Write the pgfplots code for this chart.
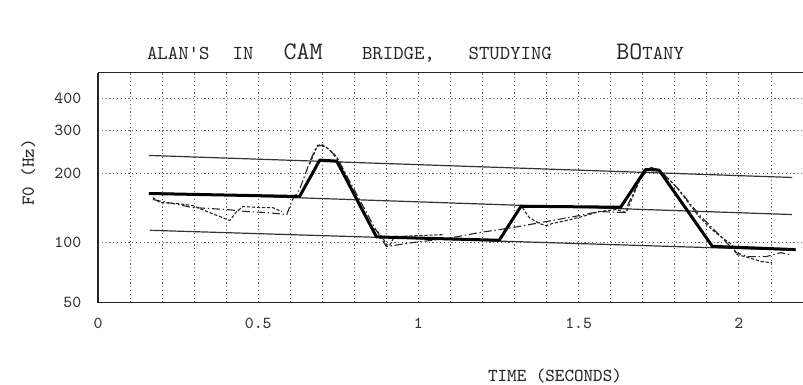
\documentclass[border=0pt]{standalone}
\usepackage{pgfplots}
\pgfplotsset{compat=1.18}
\usepackage{fontspec}
\newcommand{\fs}[1]{\fontsize{#1}{#1}\selectfont\ttfamily}

\begin{document}
\begin{tikzpicture}
\begin{axis}[
  name=ax, at={(0,0)}, anchor=south west,
  scale only axis, width=352.5pt, height=115pt,
  xmin=0, xmax=2.2,
  ymin=50, ymax=505,
  % frequency scale: log of (f + 25 Hz)
  y coord trafo/.code={\pgfmathparse{ln(#1+25)}},
  y coord inv trafo/.code={\pgfmathparse{exp(#1)-25}},
  separate axis lines,
  axis x line=box, axis y line=left,
  axis line style={-, black!85, line width=0.7pt},
  xtick={0,0.5,1,1.5,2}, xticklabels={0,0.5,1,1.5,2},
  minor xtick={0.1,0.2,0.3,0.4,0.6,0.7,0.8,0.9,1.1,1.2,1.3,1.4,1.6,1.7,1.8,1.9,2.1,2.2},
  ytick={50,100,200,300,400}, yticklabels={50,100,200,300,400},
  major tick length=0pt, minor tick length=0pt,
  xtick pos=bottom,
  grid=both,
  major grid style={black!60, line width=0.45pt, dash pattern=on 0.6pt off 1.3pt},
  minor grid style={black!60, line width=0.45pt, dash pattern=on 0.6pt off 1.3pt},
  xticklabel style={font=\fs{8.4}, text=black!80, inner sep=0pt, anchor=north, yshift=-7.7pt},
  yticklabel style={font=\fs{8.4}, text=black!80, inner sep=0pt, anchor=east, xshift=-8.2pt},
  clip=false,
]
% declination lines: topline, midline, baseline
\addplot[black!80, line width=0.6pt] coordinates {(0.159,237.3) (2.166,192.5)};
\addplot[black!80, line width=0.6pt] coordinates {(0.159,166.1) (2.165,133.7)};
\addplot[black!80, line width=0.6pt] coordinates {(0.162,113.8) (2.177,92.1)};

% measured F0 track (dashed)
\addplot[black!85, line width=0.55pt, dash pattern=on 1.6pt off 0.9pt] coordinates {
  (0.171,158.4) (0.193,150.7) (0.246,149.3) (0.296,146.3) (0.340,137.8)
  (0.380,131.0) (0.411,125.8) (0.433,137.8) (0.452,144.9) (0.505,143.4)
  (0.545,143.4) (0.573,137.8)};
\addplot[black!85, line width=0.55pt, dash pattern=on 1.6pt off 0.9pt] coordinates {
  (0.660,217.9) (0.685,260.6) (0.698,263.0) (0.713,255.8) (0.738,239.5)
  (0.754,224.2) (0.785,179.9) (0.816,144.9) (0.847,120.7) (0.872,112.3)
  (0.888,105.5) (0.900,97.9) (0.910,96.8) (0.925,106.6) (1.003,107.7)
  (1.081,108.8)};
\addplot[black!85, line width=0.55pt, dash pattern=on 1.6pt off 0.9pt] coordinates {
  (1.324,143.4) (1.346,129.7) (1.377,122.0) (1.399,119.5) (1.417,122.0)
  (1.461,125.8) (1.511,131.0) (1.564,137.8) (1.617,140.6) (1.648,136.4)
  (1.698,198.1) (1.726,211.8) (1.757,203.9) (1.804,176.4) (1.835,155.3)
  (1.875,131.0) (1.916,114.6) (1.947,105.5) (1.978,97.9) (1.994,87.9)
  (2.031,85.0) (2.072,81.3) (2.103,80.4)};

% stylised F0 track (dash-dot)
\addplot[black!85, line width=0.55pt, dash pattern=on 4pt off 1.4pt on 0.7pt off 1.4pt] coordinates {
  (0.171,155.3) (0.296,143.4) (0.402,140.6) (0.464,137.8) (0.526,136.4)
  (0.589,133.7) (0.607,155.3) (0.629,171.3) (0.660,222.1) (0.682,258.2)
  (0.698,260.6) (0.723,251.0) (0.754,222.1) (0.816,155.3) (0.863,117.0)
  (0.900,95.8) (0.981,100.0) (1.087,104.3) (1.190,111.1) (1.293,117.0)
  (1.399,124.5) (1.502,132.3) (1.564,137.8) (1.642,136.4) (1.688,185.2)
  (1.720,211.8) (1.751,207.8) (1.813,171.3) (1.875,133.7) (1.938,108.8)
  (1.991,89.8) (2.031,85.9) (2.084,85.9) (2.131,89.8) (2.156,87.9)};

% straight-line model of the contour
\addplot[black, line width=1.5pt, line join=round] coordinates {
  (0.159,164.8) (0.629,160.0) (0.692,227.0) (0.745,224.9) (0.869,106.2)
  (1.252,102.5) (1.320,145.3) (1.631,143.9) (1.709,207.8) (1.751,206.4)
  (1.917,96.1) (2.177,92.8)};
\end{axis}

% utterance text
\begin{scope}[every node/.style={anchor=base west, inner sep=0pt, text=black!85}]
\node[font=\fs{9.9}] at ([shift={(24.35pt,121.35pt)}]ax.south west) {ALAN\textquotesingle S};
\node[font=\fs{9.9}] at ([shift={(67.15pt,121.35pt)}]ax.south west) {IN};
\node[font=\fs{12.6}] at ([shift={(92.65pt,121.35pt)}]ax.south west) {CAM};
\node[font=\fs{9.9}] at ([shift={(131.85pt,121.35pt)}]ax.south west) {BRIDGE,};
\node[font=\fs{9.9}] at ([shift={(185.15pt,121.35pt)}]ax.south west) {STUDYING};
\node at ([shift={(259pt,121.35pt)}]ax.south west) {{\fs{12.6}BO}{\fs{9.9}TANY}};
\end{scope}

% axis titles
\node[font=\fs{9.1}, text=black!85, inner sep=0pt] at ([shift={(228.5pt,-36.65pt)}]ax.south west) {TIME (SECONDS)};
\node[font=\fs{9.1}, text=black!85, inner sep=0pt, rotate=90] at ([shift={(-34.85pt,65.1pt)}]ax.south west) {F0 (Hz)};

\pgfresetboundingbox
\path[use as bounding box] ([shift={(-49pt,-41.15pt)}]ax.south west) rectangle ([shift={(0pt,36.35pt)}]ax.north east);
\end{tikzpicture}
\end{document}
